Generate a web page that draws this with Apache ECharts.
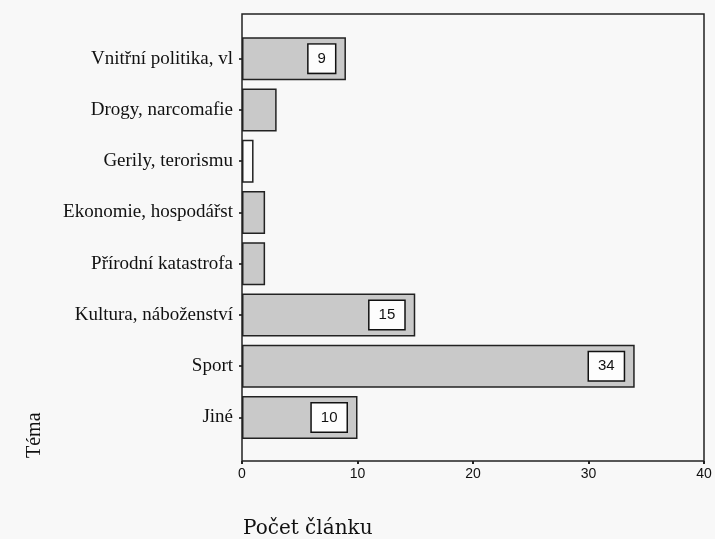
<!DOCTYPE html>
<html>
<head>
<meta charset="utf-8">
<script src="https://cdn.jsdelivr.net/npm/echarts@6/dist/echarts.min.js"></script>
<style>
  html, body { margin: 0; padding: 0; background: #f8f8f8; }
  #chart { width: 715px; height: 539px; }
</style>
</head>
<body>
<div id="chart"></div>
<script>
// data
var categories = [
  "Vnitřní politika, vl",
  "Drogy, narcomafie",
  "Gerily, terorismu",
  "Ekonomie, hospodářst",
  "Přírodní katastrofa",
  "Kultura, náboženství",
  "Sport",
  "Jiné"
];
var counts = [9, 3, 1, 2, 2, 15, 34, 10];
var xTicks = [0, 10, 20, 30, 40];

// bars drawn white instead of grey
var whiteBars = ["Gerily, terorismu"];

var chart = echarts.init(document.getElementById("chart"));

var barData = counts.map(function (v, i) {
  var item = { value: v, label: { show: v >= 5 } };
  if (whiteBars.indexOf(categories[i]) >= 0) {
    item.itemStyle = { color: "#fbfbfb" };
  }
  return item;
});

var option = {
  backgroundColor: "#f8f8f8",
  animation: false,
  grid: { left: 242, right: 11, top: 33, bottom: 96 },
  xAxis: {
    type: "value",
    min: xTicks[0],
    max: xTicks[xTicks.length - 1],
    interval: 10,
    offset: 18,
    axisLine: { show: false },
    axisTick: { show: true, length: 3, lineStyle: { color: "#222", width: 2 } },
    splitLine: { show: false },
    axisLabel: {
      margin: 6,
      color: "#111",
      fontFamily: "Liberation Sans",
      fontSize: 14
    }
  },
  yAxis: {
    type: "category",
    inverse: true,
    data: categories,
    axisLine: { show: false },
    axisTick: { show: true, alignWithLabel: true, length: 3, lineStyle: { color: "#444", width: 2 } },
    axisLabel: {
      margin: 9,
      color: "#111",
      fontFamily: "Liberation Serif",
      fontSize: 19
    }
  },
  series: [
    {
      type: "bar",
      barWidth: 43,
      data: barData,
      itemStyle: {
        color: "#c9c9c9",
        borderColor: "#222",
        borderWidth: 1.5
      },
      label: {
        position: "insideRight",
        distance: 11,
        color: "#111",
        fontFamily: "Liberation Sans",
        fontSize: 15,
        backgroundColor: "#fdfdfd",
        borderColor: "#111",
        borderWidth: 1.5,
        padding: [7, 9, 6, 9]
      }
    }
  ],
  graphic: [
    {
      type: "rect",
      shape: { x: 242, y: 14, width: 462, height: 447 },
      style: { fill: null, stroke: "#222", lineWidth: 1.5 },
      z: 100
    },
    {
      type: "text",
      left: 243,
      top: 519,
      style: {
        text: "Počet článku",
        font: "20px 'DejaVu Serif'",
        fill: "#111"
      }
    },
    {
      type: "text",
      x: 25,
      y: 458,
      rotation: Math.PI / 2,
      style: {
        text: "Téma",
        font: "20px 'Liberation Serif'",
        fill: "#111"
      }
    }
  ]
};

chart.setOption(option);
</script>
</body>
</html>
